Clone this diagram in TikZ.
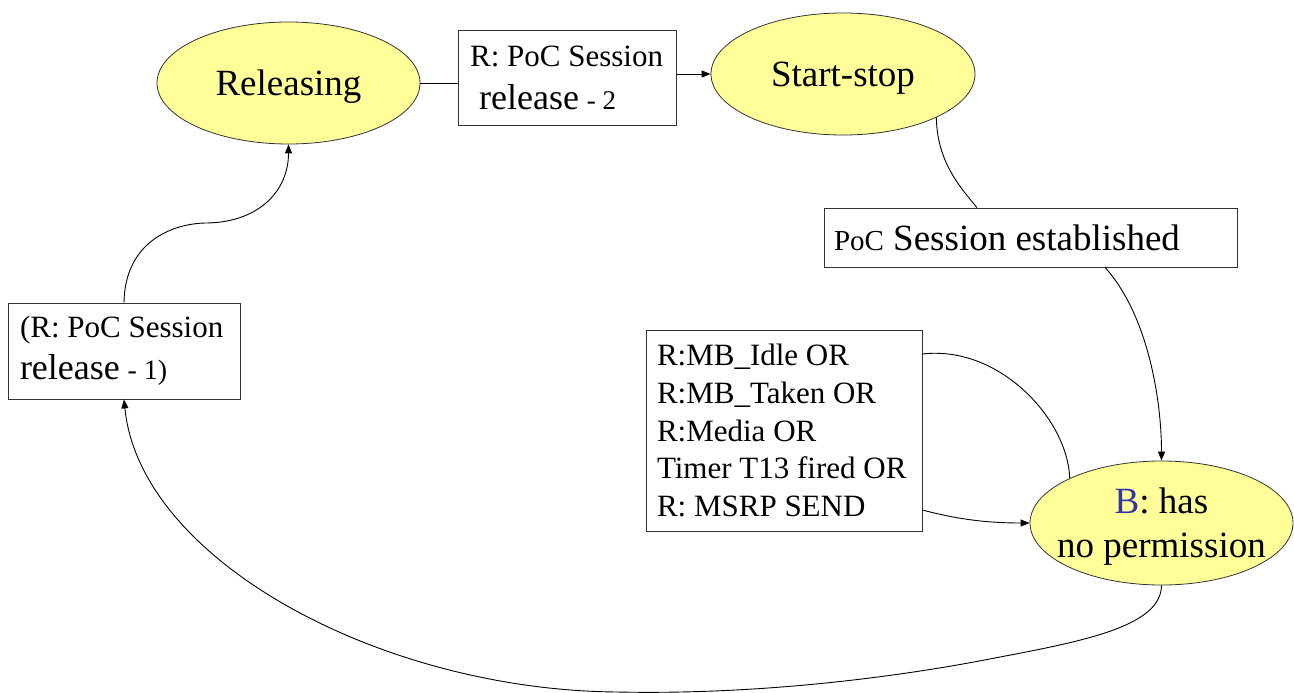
\documentclass[tikz,border=0pt]{standalone}
\usepackage{fontspec}
\setmainfont{Liberation Serif}
\usetikzlibrary{shapes.geometric,arrows.meta}
\definecolor{stfill}{HTML}{FFFF99}
\definecolor{bblue}{HTML}{3333AA}
\newcommand{\natsp}{\spaceskip=0pt\xspaceskip=0pt\relax}
\tikzset{
  state/.style={ellipse,draw=black!80,line width=0.8pt,fill=stfill,inner sep=0pt,text depth=0pt},
  lbox/.style={rectangle,draw=black!80,line width=0.8pt,fill=white,inner sep=0pt},
  conn/.style={line width=0.9pt},
  arr/.style={conn,-{Triangle[length=9pt,width=7pt]}}
}
\begin{document}
\begin{tikzpicture}[x=1pt,y=-1pt]
\useasboundingbox (0,0) rectangle (1294,693);
% states
\node[state,minimum width=263pt,minimum height=122pt,font=\fontsize{37}{44}\selectfont] (rel) at (288.5,83) {Releasing};
\node[state,minimum width=264pt,minimum height=122pt,font=\fontsize{37}{44}\selectfont] (ss) at (843,74) {Start-stop};
\node[state,minimum width=263pt,minimum height=124pt,inner xsep=-14pt,align=center,font=\fontsize{37}{44}\selectfont] (B) at (1161.5,523)
  {\textcolor{bblue}{B}: has\\no permission};
% label boxes
\node[lbox,minimum width=218pt,minimum height=95pt,text width=195pt,align=left,
  font=\fontsize{31}{43}\selectfont] (b2) at (567.6,77.5)
  {\natsp R: PoC Session\\\hspace*{9pt}{\fontsize{36}{43}\selectfont release} {\fontsize{27}{43}\selectfont - 2}};
\node[lbox,minimum width=413pt,minimum height=59pt,text width=393pt,align=left,
  font=\fontsize{37}{44}\selectfont] (est) at (1030.5,237.5)
  {\natsp{\fontsize{29}{44}\selectfont PoC} Session established};
\node[lbox,minimum width=276pt,minimum height=201pt,text width=254pt,align=left,
  font=\fontsize{31}{37.6}\selectfont] (mb) at (784,430.5)
  {\natsp R:MB\_Idle OR\\R:MB\_Taken OR\\R:Media OR\\Timer T13 fired OR\\R: MSRP SEND};
\node[lbox,minimum width=232pt,minimum height=96pt,text width=208pt,align=left,
  font=\fontsize{31}{42}\selectfont] (r1) at (124,351)
  {\natsp(R: PoC Session\\{\fontsize{36}{42}\selectfont release} {\fontsize{28}{42}\selectfont - 1)}};
% connectors
\draw[conn] (rel.east) -- (rel.east -| b2.west);
\draw[arr] (ss.west -| b2.east) -- (ss.west);
\draw[conn] (ss.-25) .. controls (937,160) and (958,185) .. (est.north -| 977,0);
\draw[arr] (est.south -| 1105,0) .. controls (1148,315) and (1161.5,400) .. (B.north);
\draw[conn] ([yshift=76.5pt]mb.east) .. controls (1000,345) and (1068,420) .. (B.154);
\draw[arr] ([yshift=-79.5pt]mb.east) .. controls (960,520) and (990,523) .. (B.west);
\draw[arr] (B.south) .. controls (1161,625) and (1090,640) .. (1000,657)
  .. controls (900,677) and (760,695) .. (617,692)
  .. controls (380,690) and (140,560) .. (r1.south);
\draw[arr] (r1.north) .. controls (125,240) and (175,223) .. (207,223)
  .. controls (260,222) and (288.5,190) .. (rel.south);
\end{tikzpicture}
\end{document}
